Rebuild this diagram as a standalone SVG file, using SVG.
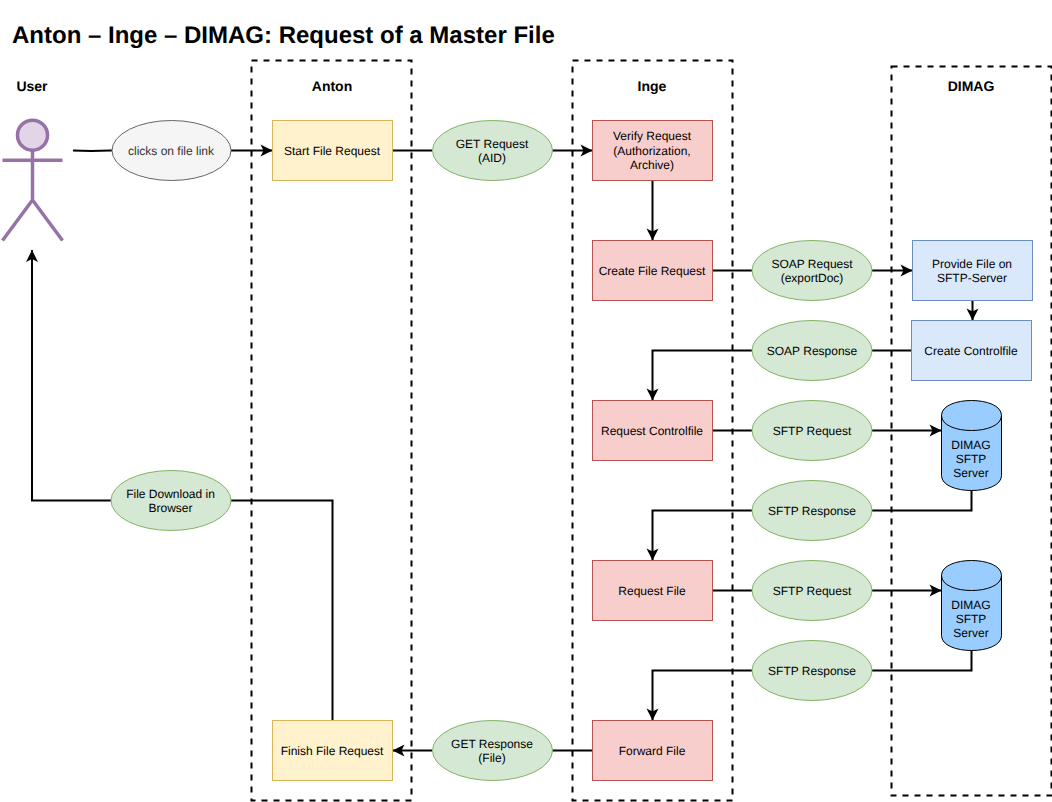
<svg xmlns="http://www.w3.org/2000/svg" width="1052" height="802" viewBox="0 0 1052 802">
<style>
text{font-family:"Liberation Sans",Arial,sans-serif;font-size:12px;fill:#000;text-anchor:middle;text-rendering:geometricPrecision}
.h{font-size:14px;font-weight:bold}
.title{font-size:24px;font-weight:bold;text-anchor:start}
.lane{fill:none;stroke:#000;stroke-width:2;stroke-dasharray:6 6}
.c{fill:none;stroke:#000;stroke-width:2}
.a{marker-end:url(#arrow)}
.y{fill:#fff2cc;stroke:#d6b656}
.r{fill:#f8cecc;stroke:#b85450}
.b{fill:#dae8fc;stroke:#6c8ebf}
.g{fill:#d5e8d4;stroke:#82b366}
.o{fill:#f5f5f5;stroke:#666666}
.db{fill:#99ccff;stroke:#000}
.dbl{fill:none;stroke:#000}
.p{fill:none;stroke:#9673a6;stroke-width:3.5}
</style>
<defs>
<marker id="arrow" markerUnits="userSpaceOnUse" markerWidth="14" markerHeight="14" refX="12" refY="6" orient="auto" viewBox="0 0 14 12" overflow="visible">
<path d="M0 0L12 6L0 12L3 6Z" fill="#000"/>
</marker>
</defs>
<rect width="1052" height="802" fill="#fff"/>
<text class="title" x="12" y="43">Anton – Inge – DIMAG: Request of a Master File</text>
<g id="lanes">
<g id="lane-anton"><rect class="lane" x="251.500" y="60.500" width="160" height="740"/><text class="h" x="332" y="91">Anton</text></g>
<g id="lane-inge"><rect class="lane" x="572.500" y="60.500" width="160" height="740"/><text class="h" x="652" y="91">Inge</text></g>
<g id="lane-dimag"><rect class="lane" x="891.500" y="66.500" width="160" height="729"/><text class="h" x="971" y="91">DIMAG</text></g>
</g>
<g id="connectors">
<path class="c" d="M73 150.500C90 151.500 100 151 112 150.500"/>
<path class="c a" d="M231 150.500H272.500"/>
<path class="c" d="M392.500 150.500H432"/>
<path class="c a" d="M552 150.500H592.500"/>
<path class="c a" d="M652.500 180.500V240.500"/>
<path class="c" d="M712.500 270.500H752"/>
<path class="c a" d="M872 270.500H912.500"/>
<path class="c a" d="M972.500 300.500V320.500"/>
<path class="c" d="M911.500 350.500H872"/>
<path class="c a" d="M752 350.500H652.500V400.500"/>
<path class="c" d="M712.500 430.500H752"/>
<path class="c a" d="M872 430.500H941.500"/>
<path class="c" d="M971.500 490.500V510.500H872"/>
<path class="c a" d="M752 510.500H652.500V560.500"/>
<path class="c" d="M712.500 590.500H752"/>
<path class="c a" d="M872 590.500H941.500"/>
<path class="c" d="M971.500 650.500V670.500H872"/>
<path class="c a" d="M752 670.500H652.500V720.500"/>
<path class="c" d="M592.500 750.500H552"/>
<path class="c a" d="M432 750.500H392.500"/>
<path class="c" d="M332.500 720.500V500.500H231"/>
<path class="c a" d="M111 500.500H32V250"/>
</g>
<g id="user">
<circle class="p" cx="32.500" cy="135.200" r="15" style="fill:#e1d5e7"/>
<path class="p" d="M32.500 150.500V200M2.500 160.300H62.500M32.500 200L2.500 240.500M32.500 200L62.500 240.500"/>
<text class="h" x="32" y="91">User</text>
</g>
<g id="clicks"><ellipse class="o" cx="171.500" cy="150.500" rx="59.500" ry="30"/><text x="171" y="155" style="fill:#333">clicks on file link</text></g>
<g id="start"><rect class="y" x="272.500" y="120.500" width="120" height="60"/><text x="332" y="155">Start File Request</text></g>
<g id="get-request"><ellipse class="g" cx="492.500" cy="150.500" rx="60" ry="30"/><text x="492" y="148">GET Request</text><text x="492" y="162">(AID)</text></g>
<g id="verify"><rect class="r" x="592.500" y="120.500" width="120" height="60"/><text x="652" y="140">Verify Request</text><text x="652" y="155">(Authorization,</text><text x="652" y="169">Archive)</text></g>
<g id="create-file"><rect class="r" x="592.500" y="240.500" width="120" height="60"/><text x="652" y="275">Create File Request</text></g>
<g id="soap-request"><ellipse class="g" cx="812" cy="270.500" rx="60" ry="30"/><text x="812" y="268">SOAP Request</text><text x="812" y="282">(exportDoc)</text></g>
<g id="provide"><rect class="b" x="912.500" y="240.500" width="120" height="60"/><text x="972" y="268">Provide File on</text><text x="972" y="282">SFTP-Server</text></g>
<g id="controlfile"><rect class="b" x="911.500" y="320.500" width="120" height="60"/><text x="971" y="355">Create Controlfile</text></g>
<g id="soap-response"><ellipse class="g" cx="812" cy="350.500" rx="60" ry="30"/><text x="812" y="355">SOAP Response</text></g>
<g id="request-controlfile"><rect class="r" x="592.500" y="400.500" width="120" height="60"/><text x="652" y="435">Request Controlfile</text></g>
<g id="sftp-request-1"><ellipse class="g" cx="812" cy="430.500" rx="60" ry="30"/><text x="812" y="435">SFTP Request</text></g>
<g id="server-1"><path class="db" d="M941.500 415.500C941.500 395.500 1001.500 395.500 1001.500 415.500V475.500C1001.500 495.500 941.500 495.500 941.500 475.500Z"/><path class="dbl" d="M941.500 415.500C941.500 435.500 1001.500 435.500 1001.500 415.500"/><text x="971" y="449">DIMAG</text><text x="971" y="463">SFTP</text><text x="971" y="477">Server</text></g>
<g id="sftp-response-1"><ellipse class="g" cx="812" cy="510.500" rx="60" ry="30"/><text x="812" y="515">SFTP Response</text></g>
<g id="request-file"><rect class="r" x="592.500" y="560.500" width="120" height="60"/><text x="652" y="595">Request File</text></g>
<g id="sftp-request-2"><ellipse class="g" cx="812" cy="590.500" rx="60" ry="30"/><text x="812" y="595">SFTP Request</text></g>
<g id="server-2"><path class="db" d="M941.500 575.500C941.500 555.500 1001.500 555.500 1001.500 575.500V635.500C1001.500 655.500 941.500 655.500 941.500 635.500Z"/><path class="dbl" d="M941.500 575.500C941.500 595.500 1001.500 595.500 1001.500 575.500"/><text x="971" y="609">DIMAG</text><text x="971" y="623">SFTP</text><text x="971" y="637">Server</text></g>
<g id="sftp-response-2"><ellipse class="g" cx="812" cy="670.500" rx="60" ry="30"/><text x="812" y="675">SFTP Response</text></g>
<g id="forward"><rect class="r" x="592.500" y="720.500" width="120" height="60"/><text x="652" y="755">Forward File</text></g>
<g id="get-response"><ellipse class="g" cx="492.500" cy="750.500" rx="60" ry="30"/><text x="492" y="748">GET Response</text><text x="492" y="762">(File)</text></g>
<g id="finish"><rect class="y" x="272.500" y="720.500" width="120" height="60"/><text x="332" y="755">Finish File Request</text></g>
<g id="download"><ellipse class="g" cx="171" cy="500.500" rx="60" ry="30"/><text x="170.500" y="498">File Download in</text><text x="170.500" y="512">Browser</text></g>
</svg>
